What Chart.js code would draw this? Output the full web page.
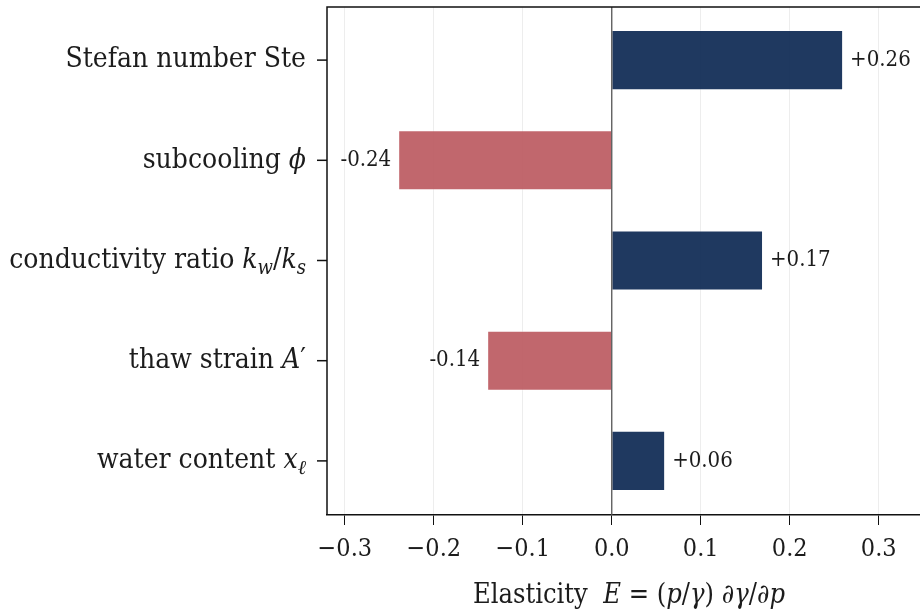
<!DOCTYPE html>
<html>
<head>
<meta charset="utf-8">
<script src="https://cdn.jsdelivr.net/npm/chart.js@4.4.1/dist/chart.umd.min.js"></script>
<style>
  html, body { margin: 0; padding: 0; background: #fff; overflow: hidden; }
  #wrap { position: relative; width: 960px; height: 616px; }
</style>
</head>
<body>
<div id="wrap"><canvas id="c" width="960" height="616"></canvas></div>
<script>
// Parameters (math parts between $...$ are set in italic, "_" marks a subscript)
const categories = [
  'Stefan number Ste',
  'subcooling $ϕ$',
  'conductivity ratio $k_w/k_s$',
  'thaw strain $A′$',
  'water content $x_ℓ$'
];
// Elasticity of each parameter
const elasticity = [0.26, -0.24, 0.17, -0.14, 0.06];
const xTicks = [-0.3, -0.2, -0.1, 0.0, 0.1, 0.2, 0.3];
const xTitle = 'Elasticity  $E = (p/γ) ∂γ/∂p$';

const SERIF = "'DejaVu Serif Condensed', 'DejaVu Serif', serif";
const POS = 'rgba(12, 40, 82, 0.92)';
const NEG = 'rgba(186, 86, 93, 0.9)';

// split a label into runs of upright / italic / subscript text
function parseRich(s) {
  const runs = [];
  let math = false;
  for (let i = 0; i < s.length; i++) {
    const ch = s[i];
    if (ch === '$') { math = !math; continue; }
    if (math && ch === '_') {
      const n = s[++i];
      runs.push({ t: n, italic: /\p{L}/u.test(n), sub: true });
      continue;
    }
    runs.push({ t: ch, italic: math && /\p{L}/u.test(ch) && ch !== 'ℓ', sub: false });
  }
  return runs;
}

function drawRich(ctx, s, x, y, size, align) {
  const runs = parseRich(s);
  const fontFor = r => `${r.italic ? 'italic ' : ''}${r.sub ? Math.round(size * 0.7) : size}px ${SERIF}`;
  let w = 0;
  runs.forEach(r => { ctx.font = fontFor(r); r.w = ctx.measureText(r.t).width; w += r.w; });
  let cx = align === 'right' ? x - w : align === 'center' ? x - w / 2 : x;
  ctx.textBaseline = 'middle';
  ctx.textAlign = 'left';
  runs.forEach(r => {
    ctx.font = fontFor(r);
    ctx.fillText(r.t, cx, r.sub ? y + size * 0.28 : y);
    cx += r.w;
  });
}

const decorations = {
  id: 'decorations',
  afterDatasetsDraw(chart) {
    const { ctx, chartArea: a, scales: { x, y } } = chart;
    ctx.save();
    // zero line
    const x0 = x.getPixelForValue(0);
    ctx.strokeStyle = '#555';
    ctx.lineWidth = 1.3;
    ctx.beginPath(); ctx.moveTo(x0, a.top); ctx.lineTo(x0, a.bottom); ctx.stroke();
    // frame top + left
    ctx.strokeStyle = '#111';
    ctx.lineWidth = 1.5;
    ctx.beginPath();
    ctx.moveTo(a.left, a.bottom); ctx.lineTo(a.left, a.top); ctx.lineTo(a.right + 10, a.top);
    ctx.stroke();
    // y tick marks and category labels
    ctx.fillStyle = '#1c1c1c';
    categories.forEach((lab, i) => {
      const py = y.getPixelForValue(i);
      ctx.beginPath(); ctx.moveTo(a.left - 10, py); ctx.lineTo(a.left, py); ctx.stroke();
      drawRich(ctx, lab, a.left - 21, py, 28, 'right');
    });
    // value labels at bar ends
    const meta = chart.getDatasetMeta(0);
    ctx.font = `22px ${SERIF}`;
    ctx.textBaseline = 'middle';
    elasticity.forEach((v, i) => {
      const bar = meta.data[i];
      const txt = (v > 0 ? '+' : '') + v.toFixed(2);
      ctx.textAlign = v >= 0 ? 'left' : 'right';
      ctx.fillText(txt, bar.x + (v >= 0 ? 7 : -7), bar.y);
    });
    // x axis title
    drawRich(ctx, xTitle, 629, 596, 27, 'center');
    ctx.restore();
  }
};

new Chart(document.getElementById('c'), {
  type: 'bar',
  data: {
    labels: categories,
    datasets: [{
      data: elasticity.map((v, i) => ({ x: v, y: i })),
      backgroundColor: elasticity.map(v => v >= 0 ? POS : NEG),
      borderColor: 'rgba(255,255,255,0.35)',
      borderWidth: 1,
      barPercentage: 0.6,
      categoryPercentage: 1.0
    }]
  },
  options: {
    indexAxis: 'y',
    responsive: false,
    animation: false,
    layout: { padding: { top: 7, right: 19, left: 0, bottom: 0 } },
    plugins: { legend: { display: false }, tooltip: { enabled: false } },
    scales: {
      x: {
        min: -0.32,
        max: 0.37,
        afterBuildTicks: s => { s.ticks = xTicks.map(v => ({ value: v })); },
        afterFit: s => { s.height = 101; },
        ticks: {
          color: '#1c1c1c',
          padding: 9,
          font: { family: SERIF, size: 25 },
          callback: v => (v < 0 ? '−' : '') + Math.abs(v).toFixed(1)
        },
        grid: { color: 'rgba(0,0,0,0.07)', tickColor: '#111', tickLength: 10, lineWidth: 1 },
        border: { color: '#111', width: 1.5 }
      },
      y: {
        type: 'linear',
        reverse: true,
        offset: false,
        min: -0.53,
        max: 4.54,
        afterBuildTicks: s => { s.ticks = categories.map((_, i) => ({ value: i })); },
        afterFit: s => { s.width = 327; },
        ticks: { display: false },
        grid: { display: false },
        border: { display: false }
      }
    }
  },
  plugins: [decorations]
});
</script>
</body>
</html>
